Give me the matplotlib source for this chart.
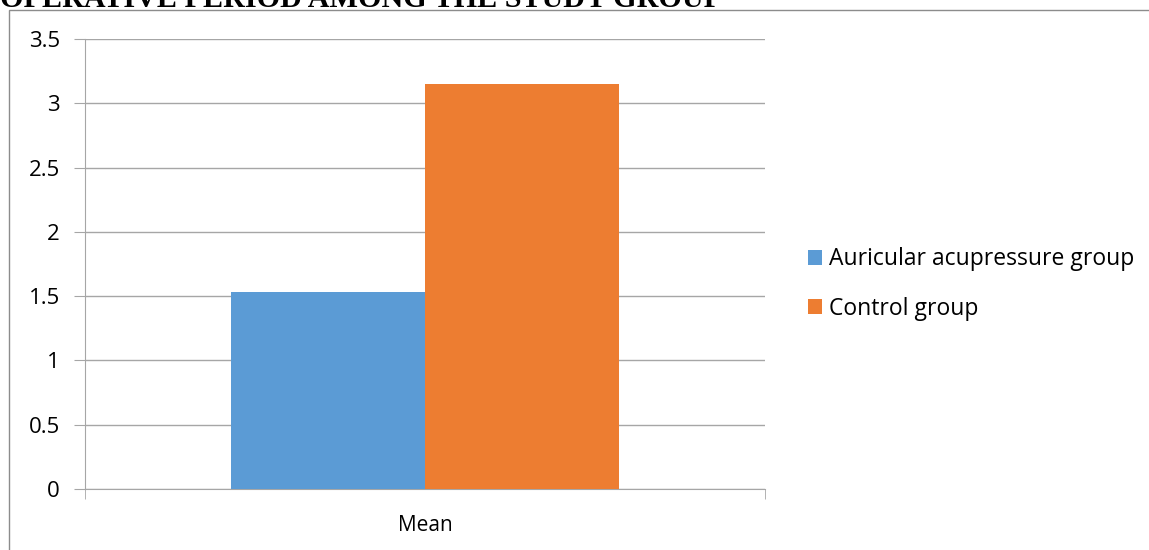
import matplotlib.pyplot as plt
from matplotlib.patches import Rectangle

# data
categories = ["Mean"]
series_names = ["Auricular acupressure group", "Control group"]
series_values = [[1.53], [3.15]]
colors = ["#5B9BD5", "#ED7D31"]
yticks = [0, 0.5, 1, 1.5, 2, 2.5, 3, 3.5]
title = "OPERATIVE PERIOD AMONG THE STUDY GROUP"

W, H = 1149, 550
fig = plt.figure(figsize=(W / 100, H / 100), dpi=100)
plt.rcParams['font.family'] = ['Open Sans', 'DejaVu Sans']

ax = fig.add_axes([85 / W, 1 - 489 / H, 680 / W, 450 / H])

bar_w = 0.285
for i, (name, vals) in enumerate(zip(series_names, series_values)):
    offs = (i - 0.5) * bar_w
    ax.bar([j + offs for j in range(len(categories))], vals, width=bar_w,
           color=colors[i], label=name, zorder=3)

ax.set_xlim(-0.5, len(categories) - 0.5)
ax.set_ylim(0, 3.5)
ax.set_yticks(yticks)
ax.set_yticklabels([f"{t:g}" for t in yticks], fontsize=16)
ax.set_xticks(range(len(categories)))
ax.set_xticklabels(categories, fontsize=15)
ax.yaxis.grid(True, color="#A6A6A6", lw=1, zorder=0)
ax.set_axisbelow(True)
for s in ["top", "right"]:
    ax.spines[s].set_visible(False)
for s in ["left", "bottom"]:
    ax.spines[s].set_color("#A6A6A6")
ax.tick_params(axis="y", length=8, color="#A6A6A6", pad=10)
ax.tick_params(axis="x", length=0, pad=19)
# tick marks at category boundaries on x axis
ax.set_xticks([-0.5, 0.5], minor=True)
ax.tick_params(axis="x", which="minor", length=7, color="#A6A6A6", direction="out")

fig.legend(loc="center left", bbox_to_anchor=(799 / W, 1 - 284 / H), frameon=False,
           fontsize=16.5, handlelength=0.6, handleheight=0.6, handletextpad=0.3,
           labelspacing=1.1, borderaxespad=0)

# outer frame of the chart
fig.patches.append(Rectangle((9 / W, -0.1), 1.2, 1 - 9.5 / H + 0.1, transform=fig.transFigure,
                             fill=False, edgecolor="#8C8C8C", lw=1, zorder=0))

# clipped title from the page above
fig.text(0.0, 1 - 7 / H, title, family="Liberation Serif", weight="bold",
         fontsize=21.7, va="baseline", ha="left")

fig.savefig("out.png", dpi=100)
